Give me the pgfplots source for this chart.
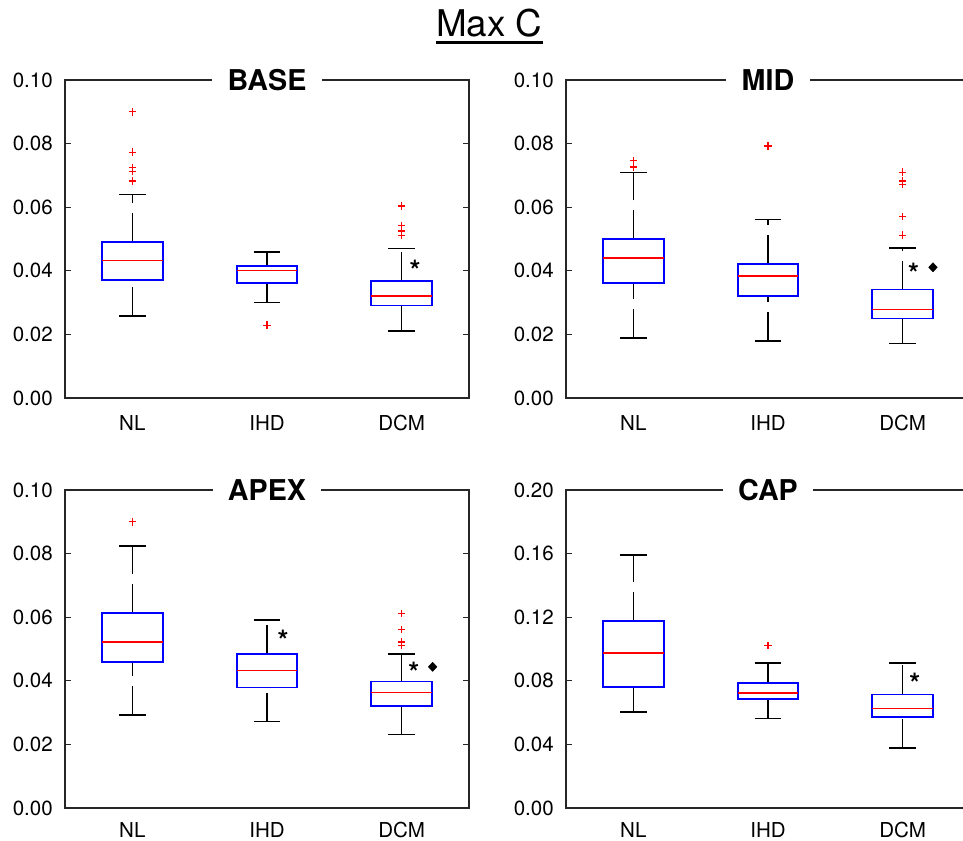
\documentclass[border=0pt]{standalone}
\usepackage{fontspec}
\setmainfont{TeX Gyre Heros}
\usepackage{pgfplots}
\pgfplotsset{compat=1.18}
\usepgfplotslibrary{statistics}

% 1 px of the reference = 0.75pt
\newcommand{\tickfont}{\fontsize{15.4}{18}\selectfont}

\pgfplotsset{
  maxc/.style={
    scale only axis, width=303pt, height=238.5pt,
    anchor=north west,
    xmin=0.5, xmax=3.5, ymin=0,
    xtick={1,2,3}, xticklabels={NL,IHD,DCM},
    xtick style={draw=none},
    ytick pos=both, tick align=inside, major tick length=4.5pt,
    ytick style={line width=1pt, black!85},
    axis line style={line width=1.25pt, black!85},
    scaled y ticks=false,
    /pgf/number format/assume math mode=true,
    yticklabel style={/pgf/number format/fixed, /pgf/number format/fixed zerofill,
      /pgf/number format/precision=2, font=\tickfont, inner sep=0pt, xshift=-9pt},
    xticklabel style={font=\tickfont, inner sep=0pt, yshift=-12.75pt},
    every axis title shift=0pt,
    title style={at={(0.5,1)}, anchor=center, fill=white,
      font=\bfseries\fontsize{21.5}{24}\selectfont, inner xsep=11.5pt, inner ysep=2pt},
    clip=false,
    boxplot/draw direction=y,
    boxplot/box extend=0.45,
    boxplot/whisker extend=0.2,
    boxplot/every box/.style={draw=blue, line width=1.4pt},
    boxplot/every median/.style={red, line width=1.1pt},
    boxplot/every whisker/.style={black, line width=1.2pt},
    boxplot/draw/lower whisker/.code={%
      \draw[/pgfplots/boxplot/every whisker/.try, dash pattern=on 21.75pt off 7.5pt]
        (boxplot box cs:\pgfplotsboxplotvalue{lower whisker},0.5) --
        (boxplot box cs:\pgfplotsboxplotvalue{lower quartile},0.5);
      \draw[/pgfplots/boxplot/every whisker/.try]
        (boxplot whisker cs:\pgfplotsboxplotvalue{lower whisker},0) --
        (boxplot whisker cs:\pgfplotsboxplotvalue{lower whisker},1);
    },
    boxplot/draw/upper whisker/.code={%
      \draw[/pgfplots/boxplot/every whisker/.try, dash pattern=on 21.75pt off 7.5pt]
        (boxplot box cs:\pgfplotsboxplotvalue{upper quartile},0.5) --
        (boxplot box cs:\pgfplotsboxplotvalue{upper whisker},0.5);
      \draw[/pgfplots/boxplot/every whisker/.try]
        (boxplot whisker cs:\pgfplotsboxplotvalue{upper whisker},0) --
        (boxplot whisker cs:\pgfplotsboxplotvalue{upper whisker},1);
    },
  },
  bottomrow/.style={xticklabel style={yshift=2.25pt}},
  bx/.style={mark=+, mark size=2.8pt, mark options={draw=red, fill=red, solid, line width=1pt}},
  star/.style={only marks, mark=text, text mark={*}, text mark as node=true,
    text mark style={font=\bfseries\fontsize{21}{21}\selectfont, yshift=-4.3pt}},
  dia/.style={only marks, mark=diamond*, mark size=3.4pt, black, mark options={xscale=1.25}},
}

\begin{document}
\begin{tikzpicture}
\useasboundingbox (0,0) rectangle (722.25pt,-630.75pt);

\node[anchor=base, inner sep=0pt, font=\fontsize{27.6}{30}\selectfont] (T) at (366.9pt,-27.5pt) {Max C};
\draw[line width=2.2pt] ([yshift=-4.5pt]T.base west) -- ([yshift=-4.5pt]T.base east);

% BASE
\begin{axis}[maxc, at={(48.75pt,-60pt)}, ymax=0.1, ytick={0,0.02,...,0.1}, title={BASE}]
\addplot[bx, boxplot prepared={draw position=1, lower whisker=0.0258, lower quartile=0.0370,
  median=0.0432, upper quartile=0.0491, upper whisker=0.0640}]
  table[row sep=\\, y index=0] {y\\ 0.0900\\ 0.0773\\ 0.0725\\ 0.0712\\ 0.0682\\};
\addplot[bx, boxplot prepared={draw position=2, lower whisker=0.0300, lower quartile=0.0362,
  median=0.0401, upper quartile=0.0414, upper whisker=0.0460}]
  table[row sep=\\, y index=0] {y\\ 0.0229\\};
\addplot[bx, boxplot prepared={draw position=3, lower whisker=0.0210, lower quartile=0.0291,
  median=0.0321, upper quartile=0.0369, upper whisker=0.0470}]
  table[row sep=\\, y index=0] {y\\ 0.0604\\ 0.0543\\ 0.0525\\ 0.0512\\};
\addplot[star] coordinates {(3.10,0.0420)};
\end{axis}

% MID
\begin{axis}[maxc, at={(424.5pt,-60pt)}, ymax=0.1, ytick={0,0.02,...,0.1}, title={MID}]
\addplot[bx, boxplot prepared={draw position=1, lower whisker=0.0189, lower quartile=0.0362,
  median=0.0440, upper quartile=0.0499, upper whisker=0.0709}]
  table[row sep=\\, y index=0] {y\\ 0.0746\\ 0.0726\\};
\addplot[bx, boxplot prepared={draw position=2, lower whisker=0.0179, lower quartile=0.0320,
  median=0.0384, upper quartile=0.0422, upper whisker=0.0561}]
  table[row sep=\\, y index=0] {y\\ 0.0792\\};
\addplot[bx, boxplot prepared={draw position=3, lower whisker=0.0171, lower quartile=0.0250,
  median=0.0279, upper quartile=0.0341, upper whisker=0.0471}]
  table[row sep=\\, y index=0] {y\\ 0.0710\\ 0.0682\\ 0.0672\\ 0.0570\\ 0.0512\\};
\addplot[star] coordinates {(3.08,0.0411)};
\addplot[dia] coordinates {(3.225,0.0411)};
\end{axis}

% APEX
\begin{axis}[maxc, bottomrow, at={(48.75pt,-367.5pt)}, ymax=0.1, ytick={0,0.02,...,0.1}, title={APEX}]
\addplot[bx, boxplot prepared={draw position=1, lower whisker=0.0293, lower quartile=0.0460,
  median=0.0522, upper quartile=0.0612, upper whisker=0.0823}]
  table[row sep=\\, y index=0] {y\\ 0.0900\\};
\addplot[bx, boxplot prepared={draw position=2, lower whisker=0.0272, lower quartile=0.0379,
  median=0.0433, upper quartile=0.0484, upper whisker=0.0591}]
  coordinates {};
\addplot[bx, boxplot prepared={draw position=3, lower whisker=0.0231, lower quartile=0.0322,
  median=0.0363, upper quartile=0.0398, upper whisker=0.0484}]
  table[row sep=\\, y index=0] {y\\ 0.0612\\ 0.0561\\ 0.0522\\ 0.0512\\};
\addplot[star] coordinates {(2.12,0.0544) (3.09,0.0444)};
\addplot[dia] coordinates {(3.23,0.0444)};
\end{axis}

% CAP
\begin{axis}[maxc, bottomrow, at={(424.5pt,-367.5pt)}, ymax=0.2, ytick={0,0.04,...,0.2}, title={CAP}]
\addplot[bx, boxplot prepared={draw position=1, lower whisker=0.0602, lower quartile=0.0760,
  median=0.0974, upper quartile=0.1175, upper whisker=0.1591}]
  coordinates {};
\addplot[bx, boxplot prepared={draw position=2, lower whisker=0.0562, lower quartile=0.0684,
  median=0.0722, upper quartile=0.0785, upper whisker=0.0911}]
  table[row sep=\\, y index=0] {y\\ 0.1022\\};
\addplot[bx, boxplot prepared={draw position=3, lower whisker=0.0376, lower quartile=0.0573,
  median=0.0627, upper quartile=0.0714, upper whisker=0.0911}]
  coordinates {};
\addplot[star] coordinates {(3.09,0.0822)};
\end{axis}
\end{tikzpicture}
\end{document}
